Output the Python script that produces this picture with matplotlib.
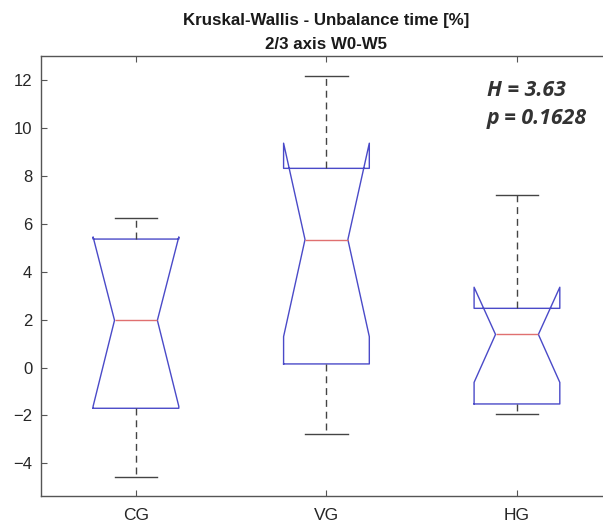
import matplotlib
matplotlib.use("Agg")
import matplotlib.pyplot as plt

groups = ["CG", "VG", "HG"]
whislo = [-4.57, -2.78, -1.94]
q1 = [-1.70, 0.15, -1.52]
med = [1.97, 5.34, 1.38]
q3 = [5.36, 8.31, 2.47]
whishi = [6.23, 12.18, 7.20]
cilo = [-1.62, 1.29, -0.62]
cihi = [5.45, 9.36, 3.35]
yticks = [-4, -2, 0, 2, 4, 6, 8, 10, 12]
title_lines = ["Kruskal-Wallis - Unbalance time [%]", "2/3 axis W0-W5"]
stat_text = ["H = 3.63", "p = 0.1628"]

plt.rcParams["font.family"] = ["Liberation Sans", "DejaVu Sans"]

fig = plt.figure(figsize=(6.03, 5.25), dpi=100)
ax = fig.add_axes([40.7 / 603, 1 - 496 / 525, 571.5 / 603, (496 - 55.7) / 525])

stats = []
for i, g in enumerate(groups):
    stats.append(dict(label=g, whislo=whislo[i], q1=q1[i], med=med[i], q3=q3[i],
                      whishi=whishi[i], cilo=cilo[i], cihi=cihi[i], fliers=[]))

box_col = "#4a4ac8"
wcol = "#444444"
ax.bxp(stats, positions=[1, 2, 3], widths=0.45, shownotches=True, showfliers=False,
       boxprops=dict(color=box_col, linewidth=1.0),
       medianprops=dict(color="#e07070", linewidth=1.0),
       whiskerprops=dict(color=wcol, linewidth=1.0, linestyle=(0, (5, 3.5))),
       capprops=dict(color=wcol, linewidth=1.0))

ax.set_xlim(0.5, 3.5)
ax.set_ylim(-5.36, 13.01)
ax.set_yticks(yticks)
ax.set_yticklabels([("\u2212" + str(-t)) if t < 0 else str(t) for t in yticks])

for s in ax.spines.values():
    s.set_color("#555555")
    s.set_linewidth(1.0)
ax.tick_params(direction="in", length=4, width=0.8, color="#555555",
               top=True, right=True, labelsize=12, labelcolor="#262626", pad=6)
ax.tick_params(axis="x", labelsize=12.5, pad=9)

ax.set_title(title_lines[0] + "\n" + title_lines[1], fontsize=12.2, fontweight="bold",
             color="#1a1a1a", linespacing=1.75, pad=5)

ax.text(2.843, 11.56, stat_text[0], fontsize=15.3, fontweight="bold", fontstyle="italic",
        family=["Open Sans", "DejaVu Sans"], color="#333333", ha="left", va="center")
ax.text(2.843, 10.38, stat_text[1], fontsize=15.3, fontweight="bold", fontstyle="italic",
        family=["Open Sans", "DejaVu Sans"], color="#333333", ha="left", va="center")

fig.savefig("out.png", dpi=100)
